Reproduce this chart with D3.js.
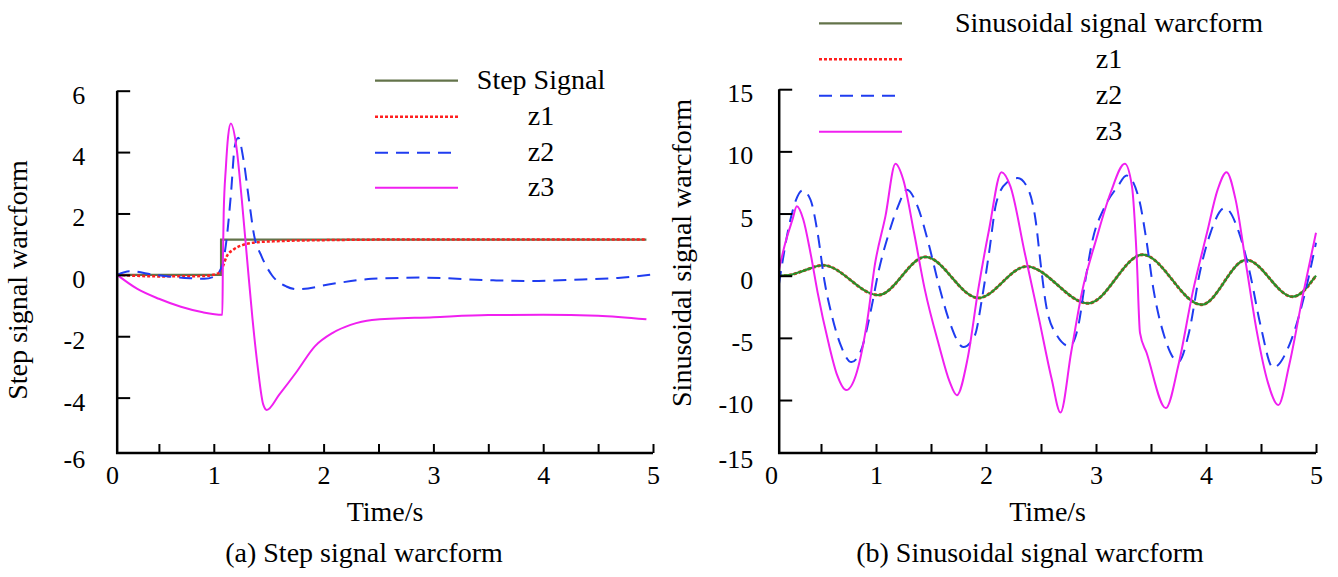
<!DOCTYPE html>
<html>
<head>
<meta charset="utf-8">
<script src="https://cdn.jsdelivr.net/npm/d3@7"></script>
<style>
    body { margin: 0; background: #fff; }
    svg text { font-family: "Liberation Serif", "Times New Roman", Times, "DejaVu Serif", serif; }
</style>
</head>
<body>
<svg id="chart" width="1338" height="577"></svg>
<script>
// ---- (a) step signal response ----
const stepT = [0.12, 1.066, 4.94];
const stepV = [0, 1.15, 1.15];

const z1StepT = [0.12, 0.5, 0.9, 1.04, 1.08, 1.117, 1.178, 1.27, 1.39, 1.6, 2.0, 2.7, 4.94];
const z1StepV = [0, -0.05, -0.04, 0.05, 0.25, 0.6, 0.82, 0.98, 1.06, 1.1, 1.13, 1.15, 1.15];

const z2StepT = [0.12, 0.232, 0.459, 0.784, 0.914, 1.011, 1.076, 1.109, 1.157, 1.19, 1.222, 1.271, 1.32, 1.368,
    1.433, 1.531, 1.661, 1.765, 2.083, 2.44, 2.895, 3.544, 3.869, 4.356, 4.681, 5.0];
const z2StepV = [0, 0.12, 0.0, -0.11, -0.13, -0.04, 0.3, 0.95, 2.67, 4.17, 4.47, 3.74, 2.45, 1.27,
    0.62, -0.02, -0.38, -0.47, -0.29, -0.13, -0.09, -0.18, -0.2, -0.15, -0.1, 0.01];

const z3StepT = [0.12, 0.3, 0.5, 0.7, 0.9, 1.078, 1.083, 1.09, 1.11, 1.13, 1.155, 1.206, 1.255, 1.303,
    1.352, 1.401, 1.45, 1.482, 1.596, 1.758, 1.92, 2.083, 2.245, 2.44, 3.0, 3.5, 4.0, 4.5, 4.94];
const z3StepV = [0, -0.45, -0.78, -1.04, -1.22, -1.3, 0.5, 2.0, 3.5, 4.5, 4.93, 4.17, 2.45, 0.52,
    -1.42, -3.03, -4.22, -4.4, -3.9, -3.14, -2.33, -1.89, -1.63, -1.47, -1.38, -1.31, -1.3, -1.33, -1.45];

// ---- (b) sinusoidal signal response ----
const sinT = [0.118, 0.209, 0.339, 0.517, 1.021, 1.45, 1.93, 2.369, 2.93, 3.424, 3.96, 4.366, 4.788, 5.0];
const sinV = [0.0, 0.04, 0.39, 0.84, -1.56, 1.51, -1.79, 0.74, -2.22, 1.69, -2.33, 1.27, -1.69, 0.0];

const z2SinT = [0.118, 0.144, 0.209, 0.274, 0.332, 0.404, 0.469, 0.534, 0.599, 0.68, 0.777, 0.858, 0.956,
    1.021, 1.118, 1.2, 1.281, 1.378, 1.476, 1.573, 1.67, 1.794, 1.898, 1.963, 2.028, 2.093, 2.19, 2.288,
    2.385, 2.45, 2.499, 2.547, 2.645, 2.758, 2.84, 2.905, 2.97, 3.067, 3.197, 3.278, 3.392, 3.457, 3.522,
    3.619, 3.749, 3.846, 3.944, 4.041, 4.171, 4.301, 4.398, 4.496, 4.61, 4.756, 4.886, 5.0];
const z2SinV = [-0.68, 0.79, 3.99, 6.12, 6.86, 6.12, 3.45, -0.55, -3.21, -5.61, -6.95, -6.14, -2.68,
    0.26, 3.45, 5.58, 6.92, 5.58, 2.65, -0.81, -3.74, -5.74, -4.81, -1.88, 1.85, 5.85, 7.5, 7.85,
    6.92, 4.52, 0.79, -2.41, -4.81, -5.66, -4.0, -0.28, 2.92, 5.32, 7.18, 8.06, 6.12, 2.92, -1.08,
    -4.81, -6.92, -4.54, 0.26, 3.45, 5.45, 3.45, 0.26, -4.0, -7.4, -5.61, -1.88, 2.65];

const z3SinT = [0.118, 0.176, 0.241, 0.28, 0.339, 0.404, 0.469, 0.566, 0.647, 0.729, 0.826, 0.923, 0.988,
    1.086, 1.177, 1.248, 1.346, 1.443, 1.573, 1.67, 1.735, 1.833, 1.93, 2.028, 2.141, 2.222, 2.352, 2.482,
    2.596, 2.677, 2.775, 2.872, 3.002, 3.132, 3.262, 3.327, 3.37, 3.4, 3.46, 3.635, 3.749, 3.879, 4.009,
    4.106, 4.187, 4.269, 4.366, 4.463, 4.561, 4.658, 4.756, 4.886, 5.0];
const z3SinV = [0.52, 2.65, 4.52, 5.58, 4.52, 1.85, -1.34, -5.32, -8.0, -9.2, -7.74, -3.47, 0.79,
    4.79, 9.0, 7.72, 3.45, -1.08, -5.61, -8.54, -9.61, -6.65, -1.08, 3.72, 8.33, 7.18, 1.85, -3.47,
    -8.27, -11.0, -6.12, -1.34, 2.92, 6.65, 9.0, 7.18, 1.5, -4.6, -6.2, -10.65, -7.2, -1.34, 3.45,
    6.92, 8.33, 6.12, 0.79, -4.54, -8.54, -10.4, -7.2, -1.34, 3.45];

const xTicks = [0, 0.5, 1, 1.5, 2, 2.5, 3, 3.5, 4, 4.5, 5];
const yTicksStep = [-6, -4, -2, 0, 2, 4, 6];
const yTicksSin = [-15, -10, -5, 0, 5, 10, 15];

const FONT = '"Liberation Serif", "Times New Roman", Times, "DejaVu Serif", serif';
const svg = d3.select('#chart');

function drawPanel(cfg) {
    const x = d3.scaleLinear().domain([0, 5]).range(cfg.xRange);
    const y = d3.scaleLinear().domain(cfg.yDomain).range(cfg.yRange);
    const x0 = x(0.12);
    const axisY = 453;

    const smooth = d3.line().x(d => x(d[0])).y(d => y(d[1])).curve(d3.curveMonotoneX);
    const stepped = d3.line().x(d => x(d[0])).y(d => y(d[1])).curve(d3.curveStepAfter);

    // series, drawn in their own order (legend keeps listed order)
    cfg.series.slice().sort((a, b) => a.draw - b.draw).forEach(s => {
        const pts = d3.zip(s.t, s.v);
        svg.append('path')
            .attr('fill', 'none')
            .attr('stroke', s.color)
            .attr('stroke-width', s.width)
            .attr('stroke-dasharray', s.dash || null)
            .attr('d', s.step ? stepped(pts) : smooth(pts));
    });

    // x axis
    const gx = svg.append('g')
        .attr('transform', `translate(0,${axisY})`)
        .call(d3.axisBottom(x)
            .tickValues(xTicks)
            .tickSize(-9)
            .tickPadding(12.5)
            .tickFormat(d => Number.isInteger(d) ? String(d) : ''));
    gx.select('.domain').remove();
    gx.selectAll('.tick line').attr('stroke', '#000').attr('stroke-width', 2);
    gx.selectAll('.tick').filter(d => d === 0).select('line').remove();
    gx.selectAll('.tick').filter(d => d === 0).select('text').attr('dx', cfg.zeroShift);
    gx.selectAll('.tick text').attr('font-size', 26).attr('fill', '#000').attr('font-family', FONT);

    // y axis
    const gy = svg.append('g')
        .attr('transform', `translate(${x0},0)`)
        .call(d3.axisLeft(y)
            .tickValues(cfg.yTicks)
            .tickSize(-13)
            .tickPadding(cfg.yPad)
            .tickFormat(d => String(d)));
    gy.select('.domain').remove();
    gy.selectAll('.tick line').attr('stroke', '#000').attr('stroke-width', 2);
    gy.selectAll('.tick').filter(d => d === cfg.yDomain[0]).select('line').remove();
    gy.selectAll('.tick').filter(d => d === cfg.yDomain[0]).attr('transform', `translate(0,${axisY + 3})`);
    gy.selectAll('.tick text').attr('font-size', 26).attr('fill', '#000').attr('dy', '0.48em')
        .attr('font-family', FONT);

    // frame lines
    svg.append('path')
        .attr('d', `M${x0},${y(cfg.yDomain[1])}V${axisY}H${x(5)}`)
        .attr('fill', 'none')
        .attr('stroke', '#000')
        .attr('stroke-width', 2.5);

    // axis titles
    svg.append('text')
        .attr('x', (x0 + x(5)) / 2)
        .attr('y', 521)
        .attr('text-anchor', 'middle')
        .attr('font-size', 28)
        .attr('font-family', FONT)
        .text('Time/s');

    svg.append('text')
        .attr('transform', `translate(${cfg.yTitleX},${cfg.yTitleY}) rotate(-90)`)
        .attr('text-anchor', 'middle')
        .attr('font-size', 28)
        .attr('font-family', FONT)
        .text(cfg.yTitle);

    svg.append('text')
        .attr('x', cfg.captionX)
        .attr('y', 562)
        .attr('text-anchor', 'middle')
        .attr('font-size', 28)
        .attr('font-family', FONT)
        .text(cfg.caption);

    // legend
    const lg = svg.append('g');
    cfg.series.forEach((s, i) => {
        const ly = cfg.legendY[i];
        lg.append('line')
            .attr('x1', cfg.legendX[0]).attr('x2', cfg.legendX[1])
            .attr('y1', ly).attr('y2', ly)
            .attr('stroke', s.legendColor || s.color)
            .attr('stroke-width', s.legendWidth || s.width)
            .attr('stroke-dasharray', s.dash || null);
        lg.append('text')
            .attr('x', cfg.legendTextX)
            .attr('y', ly)
            .attr('dy', '0.3em')
            .attr('text-anchor', 'middle')
            .attr('font-size', 28)
            .attr('font-family', FONT)
            .text(s.name);
    });
}

drawPanel({
    xRange: [104, 653],
    yDomain: [-6, 6],
    yRange: [459, 90.7],
    yTicks: yTicksStep,
    yPad: 32,
    zeroShift: 8,
    yTitle: 'Step signal warcform',
    yTitleX: 27, yTitleY: 280,
    caption: '(a) Step signal warcform',
    captionX: 364,
    legendX: [375, 458],
    legendTextX: 541,
    legendY: [80.7, 116.7, 152.7, 187.7],
    series: [
        { name: 'Step Signal', t: stepT, v: stepV, color: '#63734a', width: 2.2, step: true, draw: 0 },
        { name: 'z1', t: z1StepT, v: z1StepV, color: '#ff1f1f', width: 2.5, dash: '3,2', draw: 1 },
        { name: 'z2', t: z2StepT, v: z2StepV, color: '#1f3cf0', width: 2, dash: '13,8', draw: 2 },
        { name: 'z3', t: z3StepT, v: z3StepV, color: '#f020f0', width: 2, draw: 3 }
    ]
});

drawPanel({
    xRange: [766, 1316],
    yDomain: [-15, 15],
    yRange: [462.2, 89.2],
    yTicks: yTicksSin,
    yPad: 26,
    zeroShift: 5,
    yTitle: 'Sinusoidal signal warcform',
    yTitleX: 691, yTitleY: 253,
    caption: '(b) Sinusoidal signal warcform',
    captionX: 1030,
    legendX: [819, 902],
    legendTextX: 1109,
    legendY: [23.3, 59.3, 95.7, 131.7],
    series: [
        { name: 'Sinusoidal signal warcform', t: sinT, v: sinV, color: '#2a8f2a', width: 2.2, legendColor: '#63734a', draw: 1 },
        { name: 'z1', t: sinT, v: sinV, color: '#ff1f1f', width: 3, dash: '3,2', legendWidth: 2.5, draw: 0 },
        { name: 'z2', t: z2SinT, v: z2SinV, color: '#1f3cf0', width: 2, dash: '13,8', draw: 2 },
        { name: 'z3', t: z3SinT, v: z3SinV, color: '#f020f0', width: 2, draw: 3 }
    ]
});
</script>
</body>
</html>
